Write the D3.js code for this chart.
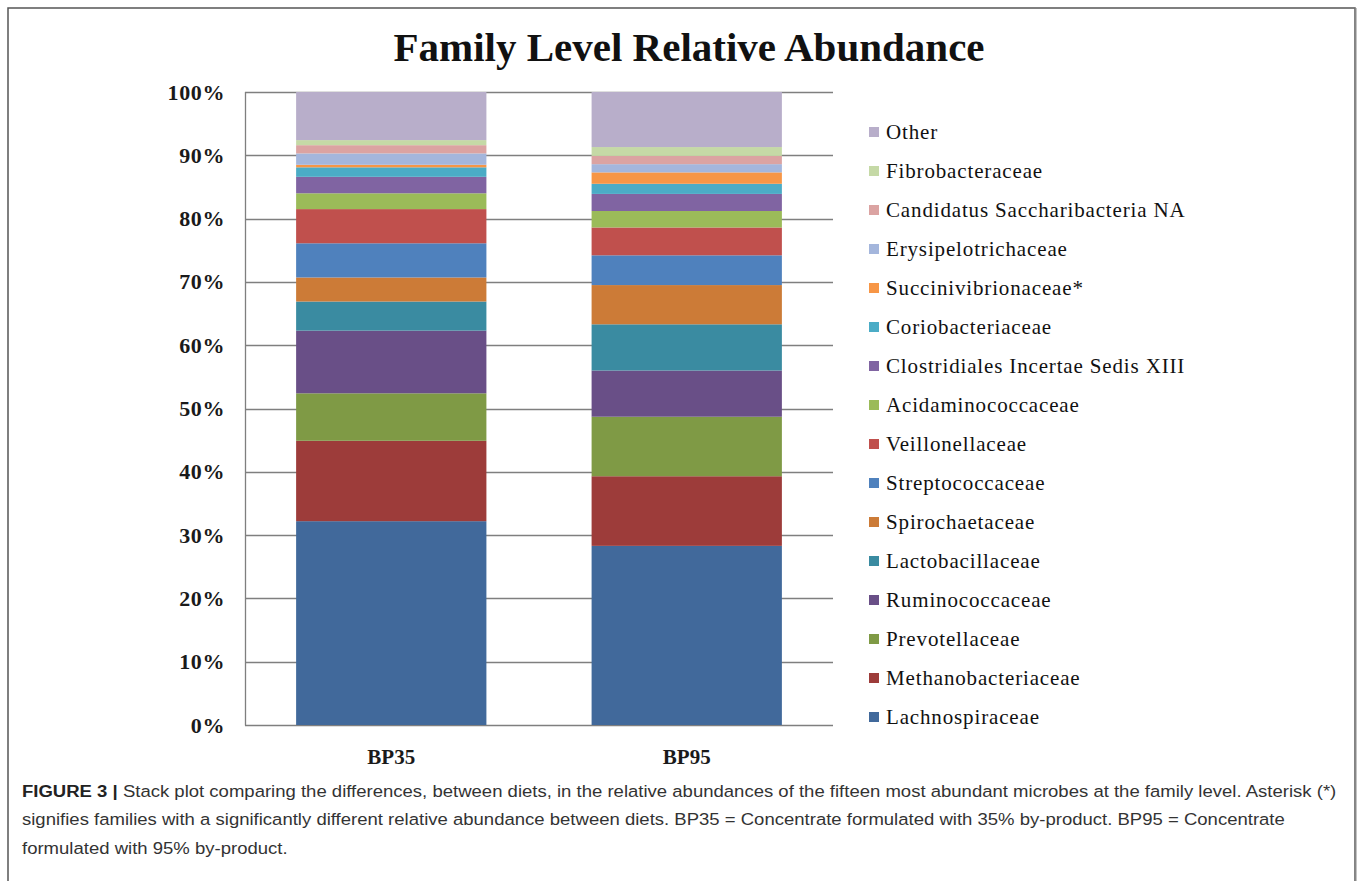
<!DOCTYPE html>
<html>
<head>
<meta charset="utf-8">
<script src="https://cdn.jsdelivr.net/npm/d3@7"></script>
<style>
  body { margin: 0; background: #fff; }
  svg { display: block; }
</style>
</head>
<body>
<script>
// data, bottom of the stack first
var samples = ["BP35", "BP95"];
var families = ["Lachnospiraceae", "Methanobacteriaceae", "Prevotellaceae", "Ruminococcaceae",
  "Lactobacillaceae", "Spirochaetaceae", "Streptococcaceae", "Veillonellaceae",
  "Acidaminococcaceae", "Clostridiales Incertae Sedis XIII", "Coriobacteriaceae",
  "Succinivibrionaceae*", "Erysipelotrichaceae", "Candidatus Saccharibacteria NA",
  "Fibrobacteraceae", "Other"];
var bp35 = [32.2, 12.7, 7.5, 9.9, 4.6, 3.8, 5.4, 5.4, 2.5, 2.6, 1.5, 0.4, 1.8, 1.3, 0.8, 7.6];
var bp95 = [28.3, 11.0, 9.4, 7.3, 7.3, 6.2, 4.7, 4.4, 2.6, 2.7, 1.6, 1.8, 1.3, 1.3, 1.4, 8.7];
var yTicks = [0, 10, 20, 30, 40, 50, 60, 70, 80, 90, 100];
var colors = ["#41699b", "#9d3c3a", "#7f9a45", "#694f87", "#3a8ba1", "#cc7b37", "#4f81bd",
  "#c0504d", "#9bbb59", "#8064a2", "#4bacc6", "#f79646", "#a4b6dc", "#dba3a2", "#c5d9a6", "#b8aeca"];
var titleText = "Family Level Relative Abundance";
var captionLines = [
  ["FIGURE 3 | ", "Stack plot comparing the differences, between diets, in the relative abundances of the fifteen most abundant microbes at the family level. Asterisk (*)"],
  ["", "signifies families with a significantly different relative abundance between diets. BP35 = Concentrate formulated with 35% by-product. BP95 = Concentrate"],
  ["", "formulated with 95% by-product."]
];

var W = 1358, H = 881;
var plot = {left: 245, right: 833, top: 92, bottom: 725};
var serif = "'Liberation Serif', 'Times New Roman', serif";

var svg = d3.select("body").append("svg").attr("width", W).attr("height", H);

// figure frame
svg.append("rect").attr("x", 8).attr("y", 8).attr("width", 1347).attr("height", 900)
  .attr("fill", "none").attr("stroke", "#555").attr("stroke-width", 1.5);
svg.append("line").attr("x1", 1355.5).attr("x2", 1355.5).attr("y1", 8).attr("y2", H)
  .attr("stroke", "#888").attr("stroke-width", 2);

// table for d3.stack
var table = samples.map(function(s, i) {
  var row = {sample: s};
  var vals = i === 0 ? bp35 : bp95;
  families.forEach(function(f, j) { row[f] = vals[j]; });
  return row;
});
var series = d3.stack().keys(families)(table);

var x = d3.scaleBand().domain(samples).range([plot.left, plot.right])
  .paddingInner(0.356).paddingOuter(0.173);
var y = d3.scaleLinear().domain([0, 100]).range([plot.bottom, plot.top]);
var color = d3.scaleOrdinal().domain(families).range(colors);

// title
svg.append("text").attr("x", 689).attr("y", 61).attr("text-anchor", "middle")
  .style("font-family", serif)
  .style("font-weight", "bold").style("font-size", "41px").attr("fill", "#111")
  .text(titleText);

// gridlines
svg.append("g").selectAll("line").data(yTicks).enter().append("line")
  .attr("x1", plot.left).attr("x2", plot.right)
  .attr("y1", function(d) { return Math.round(y(d)) + 0.5; })
  .attr("y2", function(d) { return Math.round(y(d)) + 0.5; })
  .attr("stroke", "#7f7f7f").attr("stroke-width", 1.3);
svg.append("line").attr("x1", plot.left + 0.5).attr("x2", plot.left + 0.5)
  .attr("y1", plot.top).attr("y2", plot.bottom + 0.5)
  .attr("stroke", "#7f7f7f").attr("stroke-width", 1.3);

// y axis labels
var yAxis = d3.axisLeft(y).tickValues(yTicks).tickSize(0).tickPadding(20)
  .tickFormat(function(d) { return d + "%"; });
var yg = svg.append("g").attr("transform", "translate(" + plot.left + ",0)").call(yAxis);
yg.select(".domain").remove();
yg.selectAll("text").style("font-family", serif)
  .style("font-weight", "bold").style("font-size", "22px")
  .style("letter-spacing", "0.6px").attr("fill", "#1a1a1a");

// x axis labels
var xAxis = d3.axisBottom(x).tickSize(0).tickPadding(24);
var xg = svg.append("g").attr("transform", "translate(0," + plot.bottom + ")").call(xAxis);
xg.select(".domain").remove();
xg.selectAll("text").style("font-family", serif)
  .style("font-weight", "bold").style("font-size", "21px").attr("fill", "#1a1a1a");

// stacked bars
svg.append("g").selectAll("g").data(series).enter().append("g")
  .attr("fill", function(d) { return color(d.key); })
  .selectAll("rect").data(function(d) { return d; }).enter().append("rect")
  .attr("x", function(d) { return x(d.data.sample); })
  .attr("width", x.bandwidth())
  .attr("y", function(d) { return y(d[1]); })
  .attr("height", function(d) { return y(d[0]) - y(d[1]); });

// legend, top entry is the top of the stack
var legendItems = families.slice().reverse();
var legend = svg.append("g").selectAll("g").data(legendItems).enter().append("g")
  .attr("transform", function(d, i) { return "translate(869," + (132 + i * 39) + ")"; });
legend.append("rect").attr("x", 0).attr("y", -5).attr("width", 10).attr("height", 10)
  .attr("fill", function(d) { return color(d); });
legend.append("text").attr("x", 17).attr("y", 7)
  .style("font-family", serif)
  .style("font-size", "21px").style("letter-spacing", "0.85px").attr("fill", "#111")
  .text(function(d) { return d; });

// caption
var cap = svg.append("g").attr("transform", "translate(22,0)");
var capLines = cap.selectAll("text").data(captionLines).enter().append("text")
  .attr("x", 0).attr("y", function(d, i) { return 797 + i * 28.5; })
  .style("font-family", "'Liberation Sans', Arial, sans-serif")
  .style("font-size", "17px").attr("fill", "#333");
capLines.append("tspan").style("font-weight", "bold").attr("fill", "#222")
  .text(function(d) { return d[0]; });
capLines.append("tspan").text(function(d) { return d[1]; });
var firstLen = capLines.node().getComputedTextLength();
var sx = 1316 / firstLen;
cap.attr("transform", "translate(22,0) scale(" + sx + ",1)");
</script>
</body>
</html>
